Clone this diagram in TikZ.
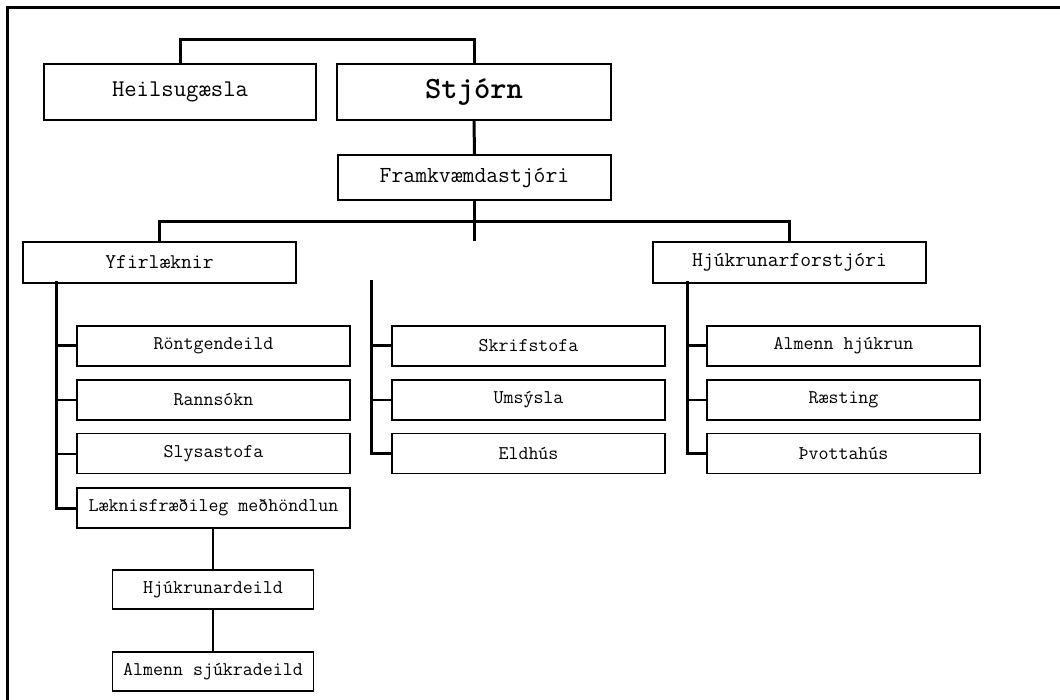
\documentclass[tikz,border=0pt]{standalone}
\usepackage{fontspec}
\begin{document}
\begin{tikzpicture}[x=1pt,y=-1pt,
  box/.style={draw=black,line width=1.4pt,fill=white,rectangle,inner sep=0pt,
    minimum width=273pt,minimum height=40pt,anchor=center},
  big/.style={box,minimum height=56pt,font=\ttfamily\fontsize{24}{28}\selectfont},
  mid/.style={box,minimum height=41pt,font=\ttfamily\fontsize{21}{24}\selectfont},
  small/.style={box,font=\ttfamily\fontsize{19.4}{22}\selectfont},
  conn/.style={line width=3pt,line cap=rect},
  thinconn/.style={line width=2pt},
  subconn/.style={line width=2pt}]
\useasboundingbox (0,0) rectangle (1060,700);
% frame
\draw[line width=2.8pt] (7.5,700) -- (7.5,7.5) -- (1060,7.5);

% nodes
\node[big] (heil) at (180,92) [minimum width=272pt] {Heilsugæsla};
\node[big,font=\ttfamily\fontsize{31}{34}\selectfont\bfseries] (stj) at (474,92) [minimum width=274pt] {Stjórn};
\node[box,minimum height=45pt,font=\ttfamily\fontsize{23}{26}\selectfont] (fram) at (474.5,177.5) {Framkvæmdastjóri};
\node[mid] (yfir) at (159.5,262.5) {Yfirlæknir};
\node[mid] (hjfor) at (789.5,262.5) {Hjúkrunarforstjóri};

\node[small] (ront) at (213.5,346) {Röntgendeild};
\node[small] (rann) at (213.5,400) {Rannsókn};
\node[small] (slys) at (213.5,453.5) {Slysastofa};
\node[small] (lakn) at (213.5,508) {Læknisfræðileg meðhöndlun};

\node[small] (skrif) at (528.5,346) {Skrifstofa};
\node[small] (umsy) at (528.5,400) {Umsýsla};
\node[small] (eldh) at (528.5,453.5) {Eldhús};

\node[small] (almh) at (843.5,346) {Almenn hjúkrun};
\node[small] (raes) at (843.5,400) {Ræsting};
\node[small] (thvo) at (843.5,453.5) {Þvottahús};

\node[small,minimum width=201pt,minimum height=39pt] (hjd) at (213,589.5) {Hjúkrunardeild};
\node[small,minimum width=201pt,minimum height=39pt] (alms) at (213,671.5) {Almenn sjúkradeild};

% coordinates
\coordinate (hbar) at (474.5,221.5);
\coordinate (stub) at (474.5,240);
\coordinate (lvtop) at (56,283);
\coordinate (mvtop) at (371.5,282);
\coordinate (rvtop) at (687,283);

% connectors
\draw[conn] (heil.north) -- ++(0,-24) -| (stj.north);
\draw[conn] (stj.south) -- (fram.north);
\draw[conn] (fram.south) -- (hbar) -- (stub);
\draw[conn] (yfir.north) |- (hbar) -| (hjfor.north);

\draw[conn] (lvtop) |- (lakn.west);
\draw[conn] (ront.west -| lvtop) -- (ront.west);
\draw[thinconn] (rann.west -| lvtop) -- (rann.west);
\draw[thinconn] (slys.west -| lvtop) -- (slys.west);

\draw[conn] (mvtop) |- (eldh.west);
\draw[conn] (skrif.west -| mvtop) -- (skrif.west);
\draw[thinconn] (umsy.west -| mvtop) -- (umsy.west);

\draw[conn] (rvtop) |- (thvo.west);
\draw[conn] (almh.west -| rvtop) -- (almh.west);
\draw[thinconn] (raes.west -| rvtop) -- (raes.west);

\draw[subconn] (hjd.north |- lakn.south) -- (hjd.north);
\draw[subconn] (hjd.south) -- (alms.north);
\end{tikzpicture}
\end{document}
